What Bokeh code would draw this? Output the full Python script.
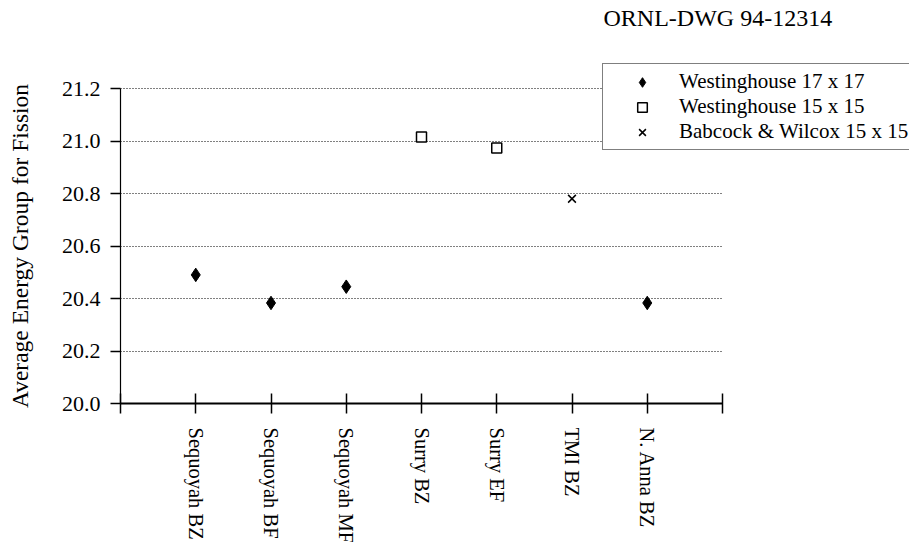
from bokeh.plotting import figure
from bokeh.models import (Range1d, FixedTicker, Legend, LegendItem, ColumnDataSource,
                          NumeralTickFormatter, Label)
from bokeh.embed import file_html
from bokeh.resources import INLINE

# ---- data ----
categories = ["Sequoyah BZ", "Sequoyah BF", "Sequoyah MF", "Surry BZ",
              "Surry EF", "TMI BZ", "N. Anna BZ"]
w17_cats = ["Sequoyah BZ", "Sequoyah BF", "Sequoyah MF", "N. Anna BZ"]
w17_vals = [20.49, 20.383, 20.445, 20.383]
w15_cats = ["Surry BZ", "Surry EF"]
w15_vals = [21.015, 20.973]
bw_cats = ["TMI BZ"]
bw_vals = [20.78]
y_ticks = [20.0, 20.2, 20.4, 20.6, 20.8, 21.0, 21.2]
series_labels = ["Westinghouse 17 x 17", "Westinghouse 15 x 15", "Babcock & Wilcox 15 x 15"]
title_text = "ORNL-DWG 94-12314"
y_label = "Average Energy Group for Fission"

FONT = "Liberation Serif"
pos = {c: i + 1 for i, c in enumerate(categories)}
x_axis_end = len(categories) + 1

# ---- layout (pixels on the canvas) ----
W, H = 909, 542
AX_LEFT_PX = 120      # canvas x of the value axis
AX_BOTTOM_PX = 403    # canvas y of the category axis
PX_PER_X = 75.25
PX_PER_Y = 262.5
x_start = -AX_LEFT_PX / PX_PER_X
x_end = (W - AX_LEFT_PX) / PX_PER_X
y_start = y_ticks[0] - (H - AX_BOTTOM_PX) / PX_PER_Y
y_end = y_ticks[0] + AX_BOTTOM_PX / PX_PER_Y

p = figure(width=W, height=H, output_backend="svg", toolbar_location=None,
           x_range=Range1d(x_start, x_end), y_range=Range1d(y_start, y_end),
           min_border=0)
p.min_border_left = 0
p.min_border_right = 0
p.min_border_top = 0
p.min_border_bottom = 0
p.title.visible = False
p.outline_line_color = None
p.background_fill_color = "white"
p.border_fill_color = "white"

# grid (dotted horizontal lines)
p.xgrid.grid_line_color = None
p.ygrid.ticker = FixedTicker(ticks=y_ticks[1:])
p.ygrid.bounds = (y_ticks[0], y_ticks[-1])
p.ygrid.cross_bounds = (0, x_axis_end)
p.ygrid.grid_line_color = "black"
p.ygrid.grid_line_dash = "1 2"
p.ygrid.grid_line_width = 1

# y axis
p.yaxis.fixed_location = 0
p.yaxis.bounds = (y_ticks[0], y_ticks[-1])
p.yaxis.ticker = FixedTicker(ticks=y_ticks)
p.yaxis.formatter = NumeralTickFormatter(format="0.0")
p.yaxis.axis_label = y_label
p.yaxis.axis_label_text_font = FONT
p.yaxis.axis_label_text_font_size = "23.5px"
p.yaxis.axis_label_text_font_style = "normal"
p.yaxis.axis_label_text_color = "black"
p.yaxis.axis_label_standoff = 26
p.yaxis.major_label_text_font = FONT
p.yaxis.major_label_text_font_size = "22px"
p.yaxis.major_label_text_color = "black"
p.yaxis.major_label_standoff = 10
p.yaxis.major_tick_out = 10
p.yaxis.major_tick_in = 0
p.yaxis.minor_tick_line_color = None
p.yaxis.axis_line_color = "black"
p.yaxis.axis_line_width = 1.2
p.yaxis.major_tick_line_color = "black"
p.yaxis.major_tick_line_width = 1.5

# x axis
p.xaxis.fixed_location = y_ticks[0]
p.xaxis.bounds = (0, x_axis_end)
p.xaxis.ticker = FixedTicker(ticks=list(range(0, x_axis_end + 1)))
overrides = {pos[c]: c for c in categories}
overrides[0] = ""
overrides[x_axis_end] = ""
p.xaxis.major_label_overrides = overrides
p.xaxis.major_label_orientation = "vertical"
p.xaxis.major_label_text_font = FONT
p.xaxis.major_label_text_font_size = "20.5px"
p.xaxis.major_label_text_color = "black"
p.xaxis.major_label_standoff = 14
p.xaxis.major_tick_out = 10
p.xaxis.major_tick_in = 10
p.xaxis.minor_tick_line_color = None
p.xaxis.axis_line_color = "black"
p.xaxis.axis_line_width = 2
p.xaxis.major_tick_line_color = "black"
p.xaxis.major_tick_line_width = 1.5

# data
s17 = ColumnDataSource(dict(x=[pos[c] for c in w17_cats], y=w17_vals))
s15 = ColumnDataSource(dict(x=[pos[c] for c in w15_cats], y=w15_vals))
sbw = ColumnDataSource(dict(x=[pos[c] for c in bw_cats], y=bw_vals))

r17 = p.scatter("x", "y", source=s17, marker="diamond", size=13.5,
                fill_color="black", line_color="black", line_width=1)
r15 = p.scatter("x", "y", source=s15, marker="square", size=10,
                fill_color="white", line_color="black", line_width=1.5)
rbw = p.scatter("x", "y", source=sbw, marker="x", size=11,
                line_color="black", line_width=1.5)

legend = Legend(items=[LegendItem(label=series_labels[0], renderers=[r17]),
                       LegendItem(label=series_labels[1], renderers=[r15]),
                       LegendItem(label=series_labels[2], renderers=[rbw])],
                location=(602, H - 150))
legend.label_text_font = FONT
legend.label_text_font_size = "21px"
legend.label_text_color = "black"
legend.padding = 5
legend.spacing = 0
legend.glyph_width = 68
legend.glyph_height = 24
legend.label_standoff = 3
legend.label_height = 24
legend.border_line_color = "black"
legend.border_line_width = 1.5
legend.background_fill_color = "white"
legend.background_fill_alpha = 1.0
legend.margin = 0
p.add_layout(legend)

# drawing number (top-right)
p.add_layout(Label(x=603, y=H - 17, x_units="screen", y_units="screen", text=title_text,
                   text_font=FONT, text_font_size="24px", text_color="black",
                   text_baseline="middle", text_align="left"))

open("out.html", "w").write(file_html(p, INLINE))
